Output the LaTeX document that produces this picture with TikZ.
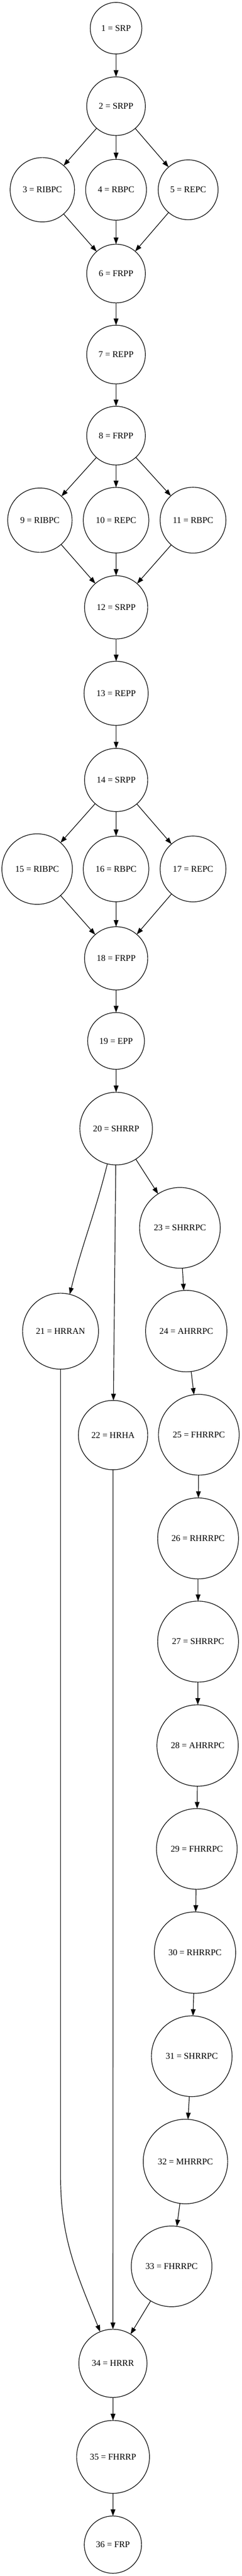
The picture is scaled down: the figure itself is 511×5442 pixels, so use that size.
\documentclass[tikz,border=0pt]{standalone}
\usepackage{fontspec}
\setmainfont{Liberation Serif}
\usetikzlibrary{arrows.meta}
\tikzset{
  st/.style={circle, draw=black, line width=1.3pt, inner sep=0pt, outer sep=0pt,
             font=\fontsize{18.67}{22}\selectfont, text=black},
  edge/.style={draw=black, line width=1.3pt, -{Triangle[length=14pt,width=10pt]}}
}
\begin{document}
\begin{tikzpicture}[x=1pt,y=-1pt]
\useasboundingbox[fill=white] (0,0) rectangle (511,5442);
\node[st, minimum size=109pt]   (n1)  at (245.3,59.6)   {1 = SRP};
\node[st, minimum size=124pt]   (n2)  at (245.3,224.3)  {2 = SRPP};
\node[st, minimum size=136pt]   (n3)  at (89.5,400.9)   {3 = RIBPC};
\node[st, minimum size=128.5pt] (n4)  at (245.3,400.9)  {4 = RBPC};
\node[st, minimum size=126.5pt] (n5)  at (397.7,400.9)  {5 = REPC};
\node[st, minimum size=124pt]   (n6)  at (245.3,577.9)  {6 = FRPP};
\node[st, minimum size=124pt]   (n7)  at (245.3,749)    {7 = REPP};
\node[st, minimum size=124pt]   (n8)  at (245.3,920.3)  {8 = FRPP};
\node[st, minimum size=136pt]   (n9)  at (84.3,1098.9)  {9 = RIBPC};
\node[st, minimum size=138.5pt] (n10) at (245.3,1098.9) {10 = REPC};
\node[st, minimum size=139pt]   (n11) at (408,1098.9)   {11 = RBPC};
\node[st, minimum size=133.5pt] (n12) at (245.5,1283)   {12 = SRPP};
\node[st, minimum size=135.5pt] (n13) at (245.5,1464.7) {13 = REPP};
\node[st, minimum size=133.5pt] (n14) at (245.5,1647.8) {14 = SRPP};
\node[st, minimum size=149pt]   (n15) at (78.5,1836)    {15 = RIBPC};
\node[st, minimum size=138.5pt] (n16) at (245.3,1835.7) {16 = RBPC};
\node[st, minimum size=139pt]   (n17) at (408,1835.7)   {17 = REPC};
\node[st, minimum size=133.5pt] (n18) at (245.5,2024.5) {18 = FRPP};
\node[st, minimum size=120pt]   (n19) at (245.3,2199)   {19 = EPP};
\node[st, minimum size=153.5pt] (n20) at (245.5,2384.2) {20 = SHRRP};
\node[st, minimum size=160.5pt] (n21) at (128,2812.2)   {21 = HRRAN};
\node[st, minimum size=146.5pt] (n22) at (239,3031.7)   {22 = HRHA};
\node[st, minimum size=170.5pt] (n23) at (380.3,2593.9) {23 = SHRRPC};
\node[st, minimum size=172pt]   (n24) at (393.7,2812)   {24 = AHRRPC};
\node[st, minimum size=170.5pt] (n25) at (420.3,3031)   {25 = FHRRPC};
\node[st, minimum size=171pt]   (n26) at (418.7,3250)   {26 = RHRRPC};
\node[st, minimum size=171pt]   (n27) at (418.7,3468)   {27 = SHRRPC};
\node[st, minimum size=172pt]   (n28) at (417.7,3687.5) {28 = AHRRPC};
\node[st, minimum size=170.5pt] (n29) at (416,3906)     {29 = FHRRPC};
\node[st, minimum size=172pt]   (n30) at (412.2,4125)   {30 = RHRRPC};
\node[st, minimum size=170.5pt] (n31) at (405.3,4343.9) {31 = SHRRPC};
\node[st, minimum size=178.5pt] (n32) at (392,4566.3)   {32 = MHRRPC};
\node[st, minimum size=170.5pt] (n33) at (362.7,4787.8) {33 = FHRRPC};
\node[st, minimum size=144pt]   (n34) at (238.7,4992.7) {34 = HRRR};
\node[st, minimum size=154pt]   (n35) at (239,5190.3)   {35 = FHRRP};
\node[st, minimum size=121pt]   (n36) at (238.7,5375.7) {36 = FRP};
\coordinate (c21) at (128,4597);

\path[edge] (n1) -- (n2);
\path[edge] (n2) -- (n3);
\path[edge] (n2) -- (n4);
\path[edge] (n2) -- (n5);
\path[edge] (n3) -- (n6);
\path[edge] (n4) -- (n6);
\path[edge] (n5) -- (n6);
\path[edge] (n6) -- (n7);
\path[edge] (n7) -- (n8);
\path[edge] (n8) -- (n9);
\path[edge] (n8) -- (n10);
\path[edge] (n8) -- (n11);
\path[edge] (n9) -- (n12);
\path[edge] (n10) -- (n12);
\path[edge] (n11) -- (n12);
\path[edge] (n12) -- (n13);
\path[edge] (n13) -- (n14);
\path[edge] (n14) -- (n15);
\path[edge] (n14) -- (n16);
\path[edge] (n14) -- (n17);
\path[edge] (n15) -- (n18);
\path[edge] (n16) -- (n18);
\path[edge] (n17) -- (n18);
\path[edge] (n18) -- (n19);
\path[edge] (n19) -- (n20);
\path[edge] (n20) to[out=-104,in=76] (n21);
\path[edge] (n20) -- (n22);
\path[edge] (n20) -- (n23);
\path[edge] (n23) -- (n24);
\path[edge] (n24) -- (n25);
\path[edge] (n25) -- (n26);
\path[edge] (n26) -- (n27);
\path[edge] (n27) -- (n28);
\path[edge] (n28) -- (n29);
\path[edge] (n29) -- (n30);
\path[edge] (n30) -- (n31);
\path[edge] (n31) -- (n32);
\path[edge] (n32) -- (n33);
\path[edge] (n21) -- (c21) to[out=-90,in=112] (n34);
\path[edge] (n22) -- (n34);
\path[edge] (n33) -- (n34);
\path[edge] (n34) -- (n35);
\path[edge] (n35) -- (n36);
\end{tikzpicture}
\end{document}
